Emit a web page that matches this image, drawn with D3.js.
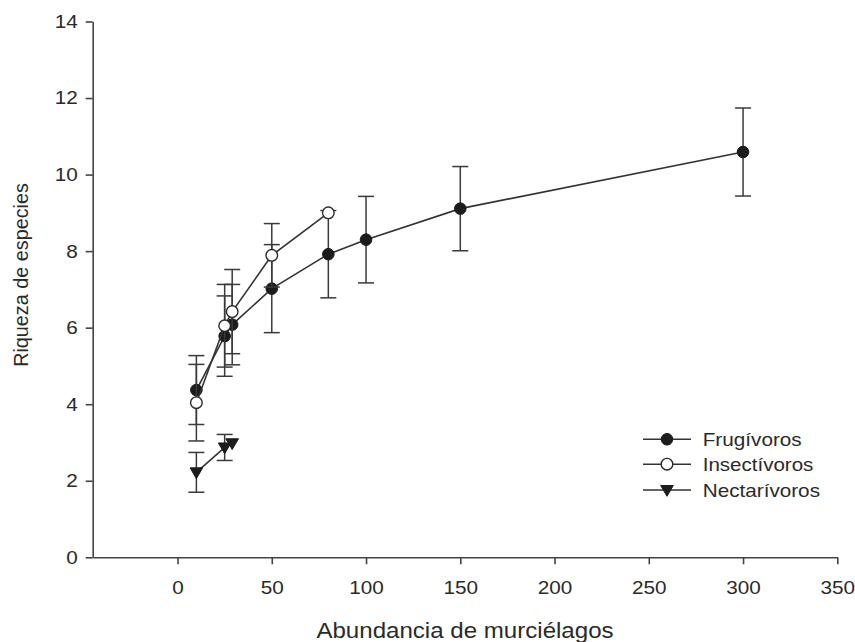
<!DOCTYPE html>
<html>
<head>
<meta charset="utf-8">
<script src="https://cdn.jsdelivr.net/npm/d3@7"></script>
<style>
  html, body { margin: 0; padding: 0; background: #fff; }
  svg { display: block; font-family: "Liberation Sans", Arial, sans-serif; }
</style>
</head>
<body>
<svg id="chart" width="855" height="642"></svg>
<script>
// ---- Data ----
const frugX   = [10, 25, 29, 50, 80, 100, 150, 300];
const frugY   = [4.37, 5.78, 6.08, 7.02, 7.92, 8.30, 9.11, 10.59];
const frugErr = [0.90, 1.05, 1.05, 1.15, 1.14, 1.13, 1.10, 1.15];

const insX    = [10, 25, 29, 50, 80];
const insY    = [4.04, 6.05, 6.42, 7.89, 9.00];
const insErr  = [1.00, 1.08, 1.10, 0.83, 0];

const nectX   = [10, 25, 29];
const nectY   = [2.22, 2.87, 2.98];
const nectErr = [0.52, 0.34, 0];

const xTicks = [0, 50, 100, 150, 200, 250, 300, 350];
const yTicks = [0, 2, 4, 6, 8, 10, 12, 14];
const seriesNames = ["Frugívoros", "Insectívoros", "Nectarívoros"];
const xTitle = "Abundancia de murciélagos";
const yTitle = "Riqueza de especies";

// ---- Layout ----
const svg = d3.select("#chart");
const X0 = 92.7, X1 = 837.3, Y0 = 557.3, Y1 = 21.5;
const x = d3.scaleLinear().domain([-45, 350]).range([X0, X1]);
const y = d3.scaleLinear().domain([0, 14]).range([Y0, Y1]);
const ink = "#2a2a2a";
const STRETCH = 1.12;

function stretch(sel) {
  sel.each(function () {
    const L = this.getComputedTextLength();
    d3.select(this).attr("textLength", L * STRETCH).attr("lengthAdjust", "spacingAndGlyphs");
  });
}

// Axes
const gx = svg.append("g").attr("transform", `translate(0,${Y0})`)
  .call(d3.axisBottom(x).tickValues(xTicks).tickSize(7).tickSizeOuter(0).tickPadding(17));
const gy = svg.append("g").attr("transform", `translate(${X0},0)`)
  .call(d3.axisLeft(y).tickValues(yTicks).tickSize(7).tickSizeOuter(0).tickPadding(8));
[gx, gy].forEach(g => {
  g.select(".domain").attr("stroke", "#444").attr("stroke-width", 1.6);
  g.selectAll(".tick line").attr("stroke", "#444").attr("stroke-width", 1.6);
  g.selectAll(".tick text").attr("fill", ink).attr("font-size", 18.5)
    .attr("font-family", "'Liberation Sans', Arial, sans-serif");
});
stretch(gx.selectAll(".tick text"));
stretch(gy.selectAll(".tick text"));

// Axis titles
svg.append("text").attr("x", (X0 + X1) / 2).attr("y", 637.5)
  .attr("text-anchor", "middle").attr("font-size", 21.5).attr("fill", ink)
  .text(xTitle).call(stretch);
svg.append("text").attr("transform", "translate(28,275) rotate(-90)")
  .attr("text-anchor", "middle").attr("font-size", 19.8).attr("fill", ink)
  .text(yTitle);

// Series
const series = [
  { name: seriesNames[0], xs: frugX, ys: frugY, es: frugErr, shape: "filled" },
  { name: seriesNames[1], xs: insX,  ys: insY,  es: insErr,  shape: "open" },
  { name: seriesNames[2], xs: nectX, ys: nectY, es: nectErr, shape: "tri" }
];
const line = d3.line().x(d => x(d[0])).y(d => y(d[1]));
const R = 5.8;
const triPath = (cx, cy) => `M${cx - 6.3},${cy - 4.5}L${cx + 6.3},${cy - 4.5}L${cx},${cy + 6.3}Z`;

function marker(g, shape, cx, cy) {
  if (shape === "filled") {
    g.append("circle").attr("cx", cx).attr("cy", cy).attr("r", R).attr("fill", "#1c1c1c").attr("stroke", "#1c1c1c").attr("stroke-width", 1);
  } else if (shape === "open") {
    g.append("circle").attr("cx", cx).attr("cy", cy).attr("r", R).attr("fill", "#fff").attr("stroke", "#2a2a2a").attr("stroke-width", 1.4);
  } else {
    g.append("path").attr("d", triPath(cx, cy)).attr("fill", "#1c1c1c").attr("stroke", "#1c1c1c").attr("stroke-width", 1);
  }
}

series.forEach(s => {
  const g = svg.append("g");
  const pts = s.xs.map((v, i) => [v, s.ys[i], s.es[i]]);
  // error bars
  pts.filter(p => p[2] > 0).forEach(p => {
    const cx = x(p[0]), top = y(p[1] + p[2]), bot = y(p[1] - p[2]);
    g.append("line").attr("x1", cx).attr("x2", cx).attr("y1", top).attr("y2", bot)
      .attr("stroke", "#3a3a3a").attr("stroke-width", 1.5);
    [top, bot].forEach(yy => g.append("line").attr("x1", cx - 8).attr("x2", cx + 8)
      .attr("y1", yy).attr("y2", yy).attr("stroke", "#3a3a3a").attr("stroke-width", 1.5));
  });
  g.append("path").attr("d", line(pts)).attr("fill", "none").attr("stroke", "#333").attr("stroke-width", 1.6);
  pts.forEach(p => marker(g, s.shape, x(p[0]), y(p[1])));
});

// Legend
const legRows = [439.3, 464.2, 490];
const legWidths = [99, 110.7, 117.3];
series.forEach((s, i) => {
  const g = svg.append("g");
  const cy = legRows[i];
  g.append("line").attr("x1", 643).attr("x2", 691).attr("y1", cy).attr("y2", cy)
    .attr("stroke", "#333").attr("stroke-width", 1.6);
  marker(g, s.shape, 667, cy);
  g.append("text").attr("x", 702.7).attr("y", cy + 6.6).attr("font-size", 18.5).attr("fill", ink)
    .attr("textLength", legWidths[i]).attr("lengthAdjust", "spacingAndGlyphs").text(s.name);
});
</script>
</body>
</html>
